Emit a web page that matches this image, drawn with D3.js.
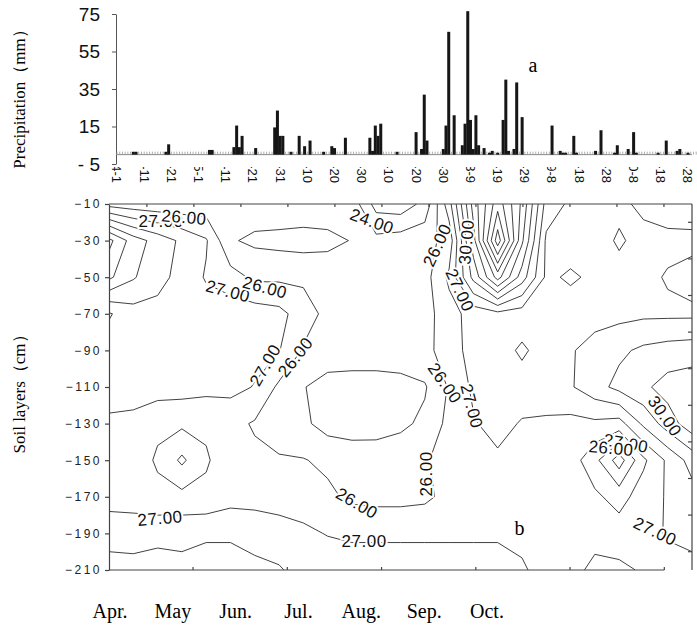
<!DOCTYPE html>
<meta charset="utf-8">

<!-- Load d3.js -->
<script src="https://d3js.org/d3.v7.min.js"></script>

<style>
  body { margin: 0; background: #fff; }
</style>

<!-- Create a div where the graph will take place -->
<div id="my_dataviz"></div>

<script>

// ---------------- data ----------------

// daily precipitation, day 0 = 1 April
var rainDay = [6, 7, 18, 19, 34, 35, 43, 44, 45, 46, 51, 58, 59, 60, 61, 64, 67, 69, 71, 76,
               79, 80, 84, 93, 94, 95, 96, 97, 103, 110, 112, 113, 114, 120, 121, 122, 124, 127, 128, 129,
               130, 131, 132, 133, 135, 137, 138, 140, 142, 143, 144, 146, 147, 149, 160, 163, 164, 165, 168, 169,
               176, 178, 183, 184, 188, 190, 191, 199, 202, 206, 207, 210];
var rainMm  = [1.5, 1.5, 1.5, 5.5, 2.5, 2.5, 4, 15.5, 4, 10, 3.5, 14.5, 23.5, 10, 10, 1.5, 10, 4.5, 7.5, 1.5,
               4.5, 3.5, 9, 9, 2, 15.5, 10, 16.5, 1.5, 12, 3, 32, 7.5, 3, 15.5, 65.5, 21, 5, 16.5, 76.5,
               18.5, 3, 21, 5, 3.5, 1, 2, 1, 18.5, 40, 2, 3, 38.5, 20, 15.5, 2, 1, 1, 10, 1,
               2, 13, 1, 5, 3, 12, 1, 1, 7.5, 2, 3, 1];
var rainTicks = [75, 55, 35, 15, -5];
var dateLabels = ["4-1", "4-11", "4-21", "5-1", "5-11", "5-21", "5-31", "6-10", "6-20", "6-30", "7-10",
                  "7-20", "7-30", "8-9", "8-19", "8-29", "9-8", "9-18", "9-28", "10-8", "10-18", "10-28"];

// soil temperature, one array per depth (cm), 25 sampling columns Apr -> Oct
var depths = [-10, -30, -50, -70, -90, -110, -130, -150, -170, -190, -210];
var t10  = [25.6, 25.4, 25.3, 25.3, 25.4, 25.3, 25.6, 25.7, 25.7, 25.7, 25.6, 23.6, 23.4, 24.3, 27.6, 32.4, 35.6, 32.8, 28.6, 27.8, 27.6, 27.7, 28.3, 28.6, 28.7];
var t30  = [31.3, 29.5, 28.6, 27.8, 27.1, 25.1, 24.8, 24.7, 24.6, 24.7, 25.05, 25.3, 25.5, 25.7, 26.3, 31.6, 37.6, 32.2, 27.8, 27.5, 27.5, 28.15, 27.6, 27.7, 27.7];
var t50  = [30.2, 29.1, 28.3, 27.7, 26.9, 26.4, 25.8, 25.8, 25.8, 25.7, 25.6, 25.5, 25.5, 25.6, 27.2, 30.3, 33.4, 30.5, 27.8, 28.15, 27.8, 27.6, 27.7, 28.1, 28.4];
var t70  = [26.9, 27.6, 27.7, 27.6, 27.5, 27.6, 27.5, 27.3, 26.5, 25.7, 25.6, 25.5, 25.5, 25.6, 26.6, 27.4, 27.7, 27.5, 27.6, 27.5, 27.6, 27.7, 27.8, 27.8, 27.8];
var t90  = [27.5, 27.6, 27.6, 27.5, 27.4, 27.4, 27.3, 27.05, 25.9, 25.6, 25.5, 25.5, 25.5, 25.7, 26.5, 27.4, 27.6, 28.15, 27.6, 27.9, 28.4, 28.8, 29.2, 29.4, 29.5];
var t110 = [27.5, 27.5, 27.5, 27.4, 27.3, 27.3, 26.95, 25.8, 25.05, 24.6, 24.6, 24.6, 24.7, 24.9, 26.1, 27.2, 27.5, 27.6, 27.7, 27.9, 28.6, 29.3, 29.8, 30.4, 30.6];
var t130 = [26.8, 26.7, 26.15, 26.2, 26.15, 26.3, 25.9, 25.5, 25.2, 24.6, 24.5, 24.6, 24.8, 25.2, 26.3, 26.9, 27.4, 26.9, 26.8, 26.7, 26.8, 26.6, 28.2, 29.5, 30.6];
var t150 = [26.3, 26.4, 25.9, 24.8, 25.9, 26.5, 26.2, 26.1, 26.05, 25.8, 25.6, 25.5, 25.6, 25.9, 26.4, 26.7, 26.8, 26.6, 26.5, 26.5, 25.3, 23.5, 25.8, 27.2, 28.4];
var t170 = [26.6, 26.6, 26.2, 26.3, 26.2, 26.6, 26.6, 26.6, 26.5, 26.2, 25.8, 25.7, 25.7, 25.8, 26.3, 26.6, 26.6, 26.6, 26.6, 26.5, 26.2, 25.6, 26.5, 27.1, 27.6];
var t190 = [27.6, 27.5, 27.8, 27.7, 27.9, 27.9, 27.7, 27.4, 27.2, 26.95, 26.8, 26.8, 26.8, 26.8, 26.8, 26.8, 26.8, 26.8, 26.6, 26.6, 26.6, 26.5, 26.6, 27.1, 27.3];
var t210 = [28.4, 28.4, 28.3, 28.3, 28.3, 28.3, 28.2, 28.1, 27.6, 27.6, 27.6, 27.6, 27.6, 27.6, 27.6, 27.6, 27.6, 27.1, 26.7, 26.6, 27.3, 27.2, 26.9, 26.6, 26.7];
var tempRows = [t10, t30, t50, t70, t90, t110, t130, t150, t170, t190, t210];

var months = ["Apr.", "May", "Jun.", "Jul.", "Aug.", "Sep.", "Oct."];

// contour labels: text, column, depth, angle
var contourLabels = [
  {text: "27.00", col: 2.14, depth: -19.3, angle: 0},
  {text: "26.00", col: 3.09, depth: -17.1, angle: 5},
  {text: "24.00", col: 10.83, depth: -19.3, angle: 20},
  {text: "27.00", col: 4.90, depth: -57.5, angle: 15},
  {text: "26.00", col: 6.42, depth: -55.4, angle: 15},
  {text: "27.00", col: 6.42, depth: -98, angle: -60},
  {text: "26.00", col: 7.66, depth: -93.6, angle: -52},
  {text: "26.00", col: 13.5, depth: -32.4, angle: -65},
  {text: "30.00", col: 14.7, depth: -30.8, angle: -85},
  {text: "27.00", col: 14.45, depth: -57, angle: 65},
  {text: "26.00", col: 13.83, depth: -107.8, angle: 55},
  {text: "27.00", col: 14.94, depth: -120.4, angle: 75},
  {text: "26.00", col: 13.05, depth: -157.5, angle: -90},
  {text: "30.00", col: 22.89, depth: -125.8, angle: 55},
  {text: "27.00", col: 21.28, depth: -140.6, angle: 10},
  {text: "26.00", col: 20.67, depth: -143.3, angle: 5},
  {text: "27.00", col: 22.48, depth: -188.7, angle: 25},
  {text: "26.00", col: 10.21, depth: -173.4, angle: 30},
  {text: "27.00", col: 2.10, depth: -181.6, angle: -5},
  {text: "27.00", col: 10.5, depth: -194.1, angle: 0}
];

// ---------------- svg ----------------
var sans = "Arial, 'Liberation Sans', sans-serif";
var serif = "'Times New Roman', 'Liberation Serif', serif";

var svg = d3.select("#my_dataviz")
  .append("svg")
    .attr("width", 697)
    .attr("height", 626)
    .style("background", "#fff");

// ================= a : precipitation =================
var xDay = d3.scaleLinear().domain([0, 210]).range([117, 688]);
var yRain = d3.scaleLinear().domain([-5, 75]).range([164, 14]);

var gTop = svg.append("g");

gTop.append("g")
    .attr("transform", "translate(116,0)")
    .call(d3.axisLeft(yRain).tickValues(rainTicks).tickSize(4).tickSizeOuter(0).tickPadding(12)
      .tickFormat(function(d) { return d < 0 ? "- " + Math.abs(d) : d; }))
    .attr("font-family", sans)
    .attr("font-size", 19)
    .call(function(g) { g.selectAll("line,path").attr("stroke", "#555"); })
    .call(function(g) { g.selectAll("text").attr("fill", "#111"); });

// baseline with one small tick per day
var y0 = yRain(0);
gTop.append("line")
    .attr("x1", 116).attr("x2", 692).attr("y1", y0).attr("y2", y0)
    .attr("stroke", "#888").attr("stroke-width", 1);
gTop.append("g").selectAll("line")
  .data(d3.range(0, 214))
  .enter().append("line")
    .attr("x1", function(d) { return xDay(d); })
    .attr("x2", function(d) { return xDay(d); })
    .attr("y1", y0).attr("y2", y0 - 3)
    .attr("stroke", "#999").attr("stroke-width", 0.8);

// bars
gTop.append("g").selectAll("rect")
  .data(rainDay)
  .enter().append("rect")
    .attr("x", function(d) { return xDay(d) - 1.5; })
    .attr("width", 3)
    .attr("y", function(d, i) { return yRain(rainMm[i]); })
    .attr("height", function(d, i) { return y0 - yRain(rainMm[i]); })
    .attr("fill", "#161616");

// rotated date labels, the month part is hidden like in the original
svg.append("clipPath").attr("id", "dateClip")
  .append("rect").attr("x", 90).attr("y", 167).attr("width", 607).attr("height", 30);

gTop.append("g")
    .attr("clip-path", "url(#dateClip)")
  .selectAll("text")
  .data(dateLabels)
  .enter().append("text")
    .attr("transform", function(d, i) { return "translate(" + xDay(i * 10) + ",183) rotate(90)"; })
    .attr("text-anchor", "end")
    .attr("dy", "0.35em")
    .attr("font-family", sans)
    .attr("font-size", 13)
    .attr("fill", "#111")
    .text(function(d) { return d; });

gTop.append("text")
    .attr("x", xDay(153)).attr("y", yRain(44))
    .attr("text-anchor", "middle")
    .attr("font-family", serif).attr("font-size", 20)
    .text("a");

svg.append("text")
    .attr("transform", "translate(25,95) rotate(-90)")
    .attr("text-anchor", "middle")
    .attr("font-family", serif).attr("font-size", 17)
    .text("Precipitation（mm）");

// ================= b : soil temperature contours =================
var xCol = d3.scaleLinear().domain([0, 24]).range([109, 692]);
var yDepth = d3.scaleLinear().domain([-10, -210]).range([204, 570]);

var grid = [];
tempRows.forEach(function(r) { r.forEach(function(v) { grid.push(v); }); });

var contours = d3.contours()
    .size([tempRows[0].length, depths.length])
    .thresholds(d3.range(22, 40))
    (grid);

var toPix = d3.geoTransform({
  point: function(x, y) {
    this.stream.point(xCol(x - 0.5), yDepth(depths[0] - (y - 0.5) * 20));
  }
});

svg.append("clipPath").attr("id", "plotClip")
  .append("rect")
    .attr("x", xCol(0)).attr("y", yDepth(-10))
    .attr("width", xCol(24) - xCol(0)).attr("height", yDepth(-210) - yDepth(-10));

svg.append("g")
    .attr("clip-path", "url(#plotClip)")
  .selectAll("path")
  .data(contours)
  .enter().append("path")
    .attr("d", d3.geoPath(toPix))
    .attr("fill", "none")
    .attr("stroke", "#2b2b2b")
    .attr("stroke-width", 0.9)
    .attr("stroke-linejoin", "round");

// frame and ticks
var frame = svg.append("g").attr("stroke", "#444").attr("stroke-width", 1.2);

svg.append("g")
    .attr("transform", "translate(" + xCol(0) + ",0)")
    .call(d3.axisLeft(yDepth).tickValues(depths).tickSize(4).tickSizeOuter(0).tickPadding(3))
    .attr("font-family", sans)
    .attr("font-size", 12)
    .call(function(g) { g.selectAll("line,path").attr("stroke", "#444").attr("stroke-width", 1.2); })
    .call(function(g) { g.selectAll("text").attr("fill", "#222").attr("letter-spacing", "2.5px"); });

frame.append("line")
    .attr("x1", xCol(0)).attr("x2", xCol(24)).attr("y1", yDepth(-10)).attr("y2", yDepth(-10));
frame.append("line")
    .attr("x1", xCol(24)).attr("x2", xCol(24)).attr("y1", yDepth(-10)).attr("y2", yDepth(-210));
frame.append("line")
    .attr("x1", xCol(0)).attr("x2", xCol(22.86)).attr("y1", yDepth(-210)).attr("y2", yDepth(-210));

frame.selectAll(".tt")
  .data(d3.range(1.56, 24, 1.935))
  .enter().append("line")
    .attr("x1", function(d) { return xCol(d); }).attr("x2", function(d) { return xCol(d); })
    .attr("y1", yDepth(-10)).attr("y2", yDepth(-10) + 3);
frame.selectAll(".bt")
  .data(d3.range(3.46, 24, 3.88))
  .enter().append("line")
    .attr("x1", function(d) { return xCol(d); }).attr("x2", function(d) { return xCol(d); })
    .attr("y1", yDepth(-210)).attr("y2", yDepth(-210) - 3);
frame.selectAll(".rt")
  .data(d3.range(-20, -201, -20))
  .enter().append("line")
    .attr("x1", xCol(24)).attr("x2", xCol(24) - 4)
    .attr("y1", function(d) { return yDepth(d); }).attr("y2", function(d) { return yDepth(d); });

// contour labels
svg.append("g").selectAll("text")
  .data(contourLabels)
  .enter().append("text")
    .attr("transform", function(d) {
      return "translate(" + xCol(d.col) + "," + yDepth(d.depth) + ") rotate(" + d.angle + ")";
    })
    .attr("text-anchor", "middle")
    .attr("dy", "0.36em")
    .attr("font-family", sans)
    .attr("font-size", 17)
    .attr("letter-spacing", "0.5px")
    .attr("fill", "#111")
    .attr("stroke", "#fff")
    .attr("stroke-width", 4)
    .attr("paint-order", "stroke")
    .text(function(d) { return d.text; });

svg.append("text")
    .attr("x", xCol(16.9)).attr("y", yDepth(-190.9))
    .attr("text-anchor", "middle")
    .attr("font-family", serif).attr("font-size", 20)
    .text("b");

// month names under the panel
var xMonth = d3.scalePoint().domain(months).range([110, 487]);
svg.append("g").selectAll("text")
  .data(months)
  .enter().append("text")
    .attr("x", function(d) { return xMonth(d); })
    .attr("y", 618)
    .attr("text-anchor", "middle")
    .attr("font-family", serif)
    .attr("font-size", 20)
    .text(function(d) { return d; });

svg.append("text")
    .attr("transform", "translate(25,390) rotate(-90)")
    .attr("text-anchor", "middle")
    .attr("font-family", serif).attr("font-size", 17)
    .text("Soil layers（cm）");

</script>
